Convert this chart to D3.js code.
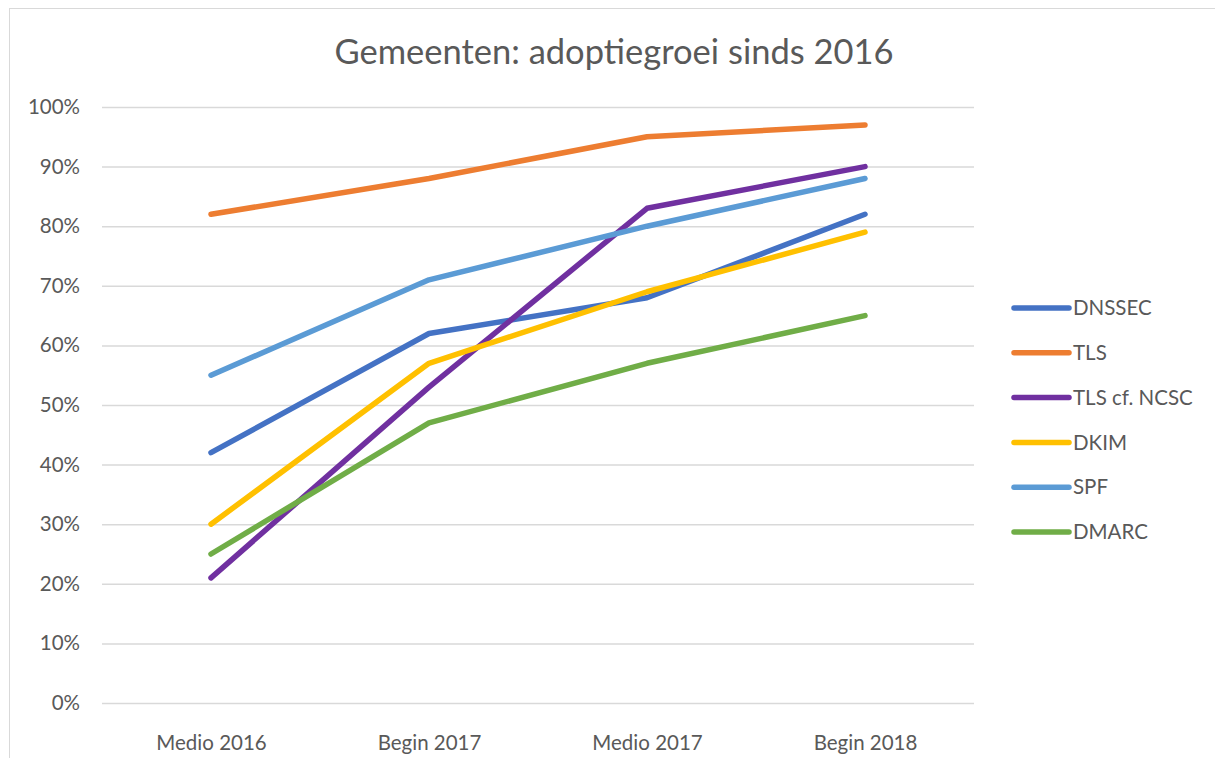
<!DOCTYPE html>
<html>
<head>
<meta charset="utf-8">
<script src="https://cdn.jsdelivr.net/npm/d3@7"></script>
<style>
  html, body { margin: 0; padding: 0; background: #fff; }
  svg { display: block; }
  text { font-family: "Lato", "Liberation Sans", sans-serif; fill: #595959; }
</style>
</head>
<body>
<svg id="chart" width="1215" height="758"></svg>
<script>
const categories = ["Medio 2016", "Begin 2017", "Medio 2017", "Begin 2018"];
const seriesNames = ["DNSSEC", "TLS", "TLS cf. NCSC", "DKIM", "SPF", "DMARC"];
const seriesColors = ["#4472C4", "#ED7D31", "#7030A0", "#FFC000", "#5B9BD5", "#70AD47"];
const dnssec = [42, 62, 68, 82];
const tls = [82, 88, 95, 97];
const tlsNcsc = [21, 53, 83, 90];
const dkim = [30, 57, 69, 79];
const spf = [55, 71, 80, 88];
const dmarc = [25, 47, 57, 65];
const yTicks = [0, 10, 20, 30, 40, 50, 60, 70, 80, 90, 100];
const title = "Gemeenten: adoptiegroei sinds 2016";

const seriesValues = [dnssec, tls, tlsNcsc, dkim, spf, dmarc];
const series = seriesNames.map((n, i) => ({ name: n, color: seriesColors[i], values: seriesValues[i] }));

const svg = d3.select("#chart");
const W = 1215, H = 758;

// outer chart border
svg.append("rect").attr("x", 9.5).attr("y", 8.5).attr("width", W + 20).attr("height", H + 20)
  .attr("fill", "#fff").attr("stroke", "#d9d9d9").attr("stroke-width", 1);

const plot = { left: 102, right: 974, top: 107, bottom: 703 };

const x = d3.scalePoint().domain(categories).range([plot.left, plot.right]).padding(0.5);
const y = d3.scaleLinear().domain([0, 100]).range([plot.bottom, plot.top]);

// title
svg.append("text").attr("x", 614).attr("y", 64).attr("text-anchor", "middle")
  .style("font-size", "34.5px").text(title);

// gridlines
const yAxis = d3.axisLeft(y).tickValues(yTicks).tickFormat(d => d + "%")
  .tickSize(-(plot.right - plot.left)).tickPadding(22);
const gy = svg.append("g").attr("transform", `translate(${plot.left},0)`).call(yAxis);
gy.select(".domain").remove();
gy.selectAll(".tick line").attr("stroke", "#d9d9d9").attr("stroke-width", 1.5);
gy.selectAll(".tick text").style("font-size", "20.5px").attr("fill", "#595959");

const xAxis = d3.axisBottom(x).tickSize(0).tickPadding(32);
const gx = svg.append("g").attr("transform", `translate(0,${plot.bottom})`).call(xAxis);
gx.select(".domain").remove();
gx.selectAll(".tick text").style("font-size", "20.5px").attr("fill", "#595959");

// lines
const line = d3.line().x((d, i) => x(categories[i])).y(d => y(d));
svg.append("g").selectAll("path").data(series).join("path")
  .attr("d", d => line(d.values))
  .attr("fill", "none").attr("stroke", d => d.color)
  .attr("stroke-width", 5.5).attr("stroke-linecap", "round").attr("stroke-linejoin", "round");

// legend
const lg = svg.append("g");
const legY = d3.scalePoint().domain(seriesNames).range([308, 532]);
const items = lg.selectAll("g").data(series).join("g")
  .attr("transform", d => `translate(1014,${legY(d.name)})`);
items.append("line").attr("x1", 0).attr("x2", 55).attr("y1", 0).attr("y2", 0)
  .attr("stroke", d => d.color).attr("stroke-width", 5.5).attr("stroke-linecap", "round");
items.append("text").attr("x", 59).attr("y", 0).attr("dy", "0.35em")
  .style("font-size", "20.5px").text(d => d.name);
</script>
</body>
</html>
